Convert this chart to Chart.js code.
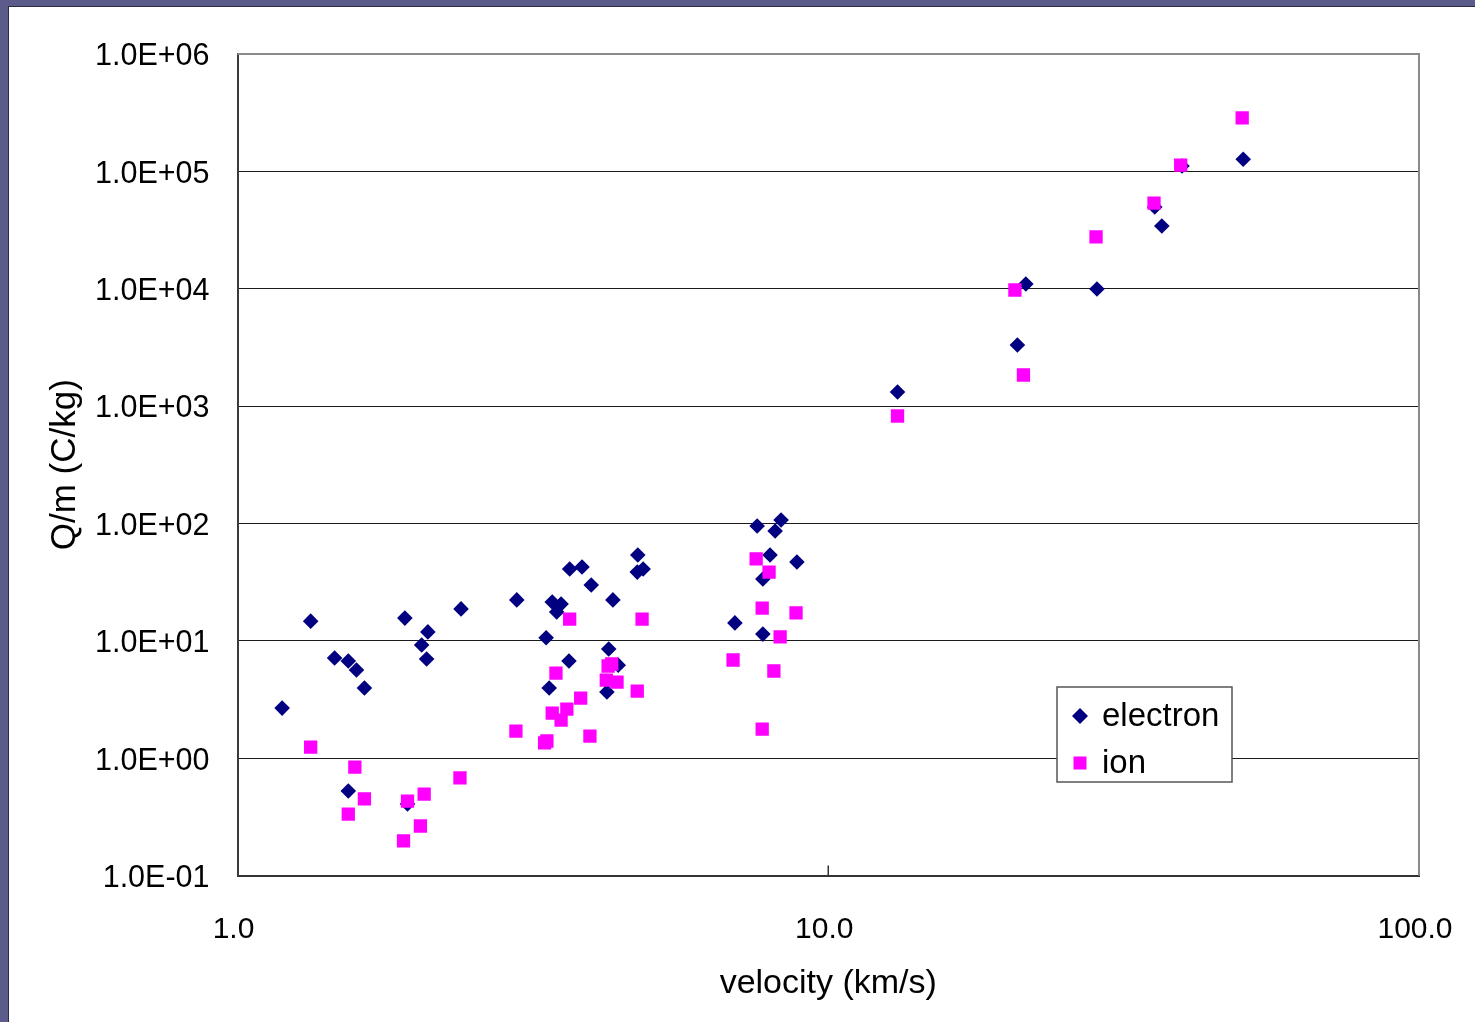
<!DOCTYPE html>
<html><head><meta charset="utf-8">
<script src="https://cdn.jsdelivr.net/npm/chart.js@4/dist/chart.umd.min.js"></script>
<style>
html,body{margin:0;padding:0;background:#5b5b8c;width:1475px;height:1022px;overflow:hidden;}
#frame{position:absolute;left:8px;top:6px;width:1466px;height:1015px;background:#fff;border-left:1px solid #2b2b44;border-top:1px solid #2b2b44;}
canvas{display:block;}
</style></head><body>
<div id="frame"><canvas id="c" width="1466" height="1015"></canvas></div>
<script>
const seriesNames = ['electron', 'ion'];
const electronVelocity = [1.19,1.33,1.46,1.54,1.59,1.64,1.54,1.92,1.94,2.05,2.10,2.09,2.39,2.97,3.33,3.37,3.41,3.47,3.53,3.64,3.65,3.83,3.97,4.22,4.25,4.32,4.41,4.76,4.75,4.86,6.95,7.58,7.75,7.75,7.97,8.13,8.32,8.85,13.1,20.9,21.6,28.5,35.7,36.7,39.7,50.4];
const electronQm = [2.67,14.7,7.13,6.72,5.64,3.96,0.525,15.6,0.407,9.2,11.9,7.0,18.7,22.3,10.6,3.96,21.4,17.6,20.6,6.72,40.9,42.5,29.9,3.66,8.5,22.3,6.2,53.8,38.5,40.9,14.2,95,33.6,11.4,53.8,86.1,107,46.9,1318,3311,10970,9940,49700,34200,111000,127000];
const ionVelocity = [1.33,1.58,1.64,1.54,1.94,2.07,2.04,1.91,2.38,3.65,4.84,3.46,4.30,4.24,4.21,4.39,4.75,3.81,3.61,3.41,3.53,2.96,3.95,3.34,3.31,7.55,7.94,7.73,8.82,8.29,6.90,8.09,7.73,13.1,21.4,20.7,28.4,35.6,39.5,50.2];
const ionQm = [1.24,0.84,0.449,0.334,0.431,0.494,0.264,0.197,0.678,15.3,15.3,5.31,6.34,6.1,4.63,4.45,3.73,3.25,2.62,2.42,2.11,1.70,1.54,1.40,1.35,49.8,38.5,19.0,17.3,10.8,6.86,5.53,1.77,823,1840,9750,27600,53700,113000,285000];
const xTickValues = [1, 10, 100];
const xTickLabels = ['1.0', '10.0', '100.0'];
const yTickValues = [0.1, 1, 10, 100, 1000, 10000, 100000, 1000000];
const yTickLabels = ['1.0E-01','1.0E+00','1.0E+01','1.0E+02','1.0E+03','1.0E+04','1.0E+05','1.0E+06'];
const xTitle = 'velocity (km/s)';
const yTitle = 'Q/m (C/kg)';

const FONT = '"Liberation Sans", Arial, sans-serif';
Chart.defaults.color = '#000';
Chart.defaults.font.family = FONT;

const toPts = (xs, ys) => xs.map((x, i) => ({x: x, y: ys[i]}));

const framePlugin = {
  id: 'frame',
  afterDraw(chart) {
    const ctx = chart.ctx, a = chart.chartArea;
    ctx.save();
    ctx.strokeStyle = '#8a8a8a';
    ctx.lineWidth = 2;
    ctx.beginPath();
    ctx.moveTo(a.left, a.top); ctx.lineTo(a.right, a.top); ctx.lineTo(a.right, a.bottom);
    ctx.stroke();
    const xs = chart.scales.x;
    ctx.strokeStyle = '#333';
    ctx.lineWidth = 1.5;
    xs.ticks.forEach(t => {
      if (t.value > xs.min && t.value < xs.max) {
        const px = xs.getPixelForValue(t.value);
        ctx.beginPath(); ctx.moveTo(px, a.bottom); ctx.lineTo(px, a.bottom - 10); ctx.stroke();
      }
    });
    const lx = 1048, ly = 680, lw = 175, lh = 95;
    ctx.fillStyle = '#fff';
    ctx.fillRect(lx, ly, lw, lh);
    ctx.strokeStyle = '#555';
    ctx.lineWidth = 1.5;
    ctx.strokeRect(lx, ly, lw, lh);
    ctx.font = '33px ' + FONT;
    ctx.textBaseline = 'middle';
    ctx.textAlign = 'left';
    chart.data.datasets.forEach((ds, i) => {
      const cy = ly + 29 + i * 47, cx = lx + 23;
      ctx.fillStyle = ds.backgroundColor;
      ctx.beginPath();
      if (ds.pointStyle === 'rectRot') {
        const r = 8;
        ctx.moveTo(cx, cy - r); ctx.lineTo(cx + r, cy); ctx.lineTo(cx, cy + r); ctx.lineTo(cx - r, cy); ctx.closePath();
      } else {
        ctx.rect(cx - 6.5, cy - 6.5, 13, 13);
      }
      ctx.fill();
      ctx.fillStyle = '#000';
      ctx.fillText(ds.label, lx + 45, cy + 1);
    });
    ctx.restore();
  }
};

new Chart(document.getElementById('c'), {
  type: 'scatter',
  data: {
    datasets: [
      { label: seriesNames[0], data: toPts(electronVelocity, electronQm), pointStyle: 'rectRot', pointRadius: 7.8,
        backgroundColor: '#000080', borderColor: '#000080', borderWidth: 0, order: 1 },
      { label: seriesNames[1], data: toPts(ionVelocity, ionQm), pointStyle: 'rect', pointRadius: 9.4,
        backgroundColor: '#ff00ff', borderColor: '#ff00ff', borderWidth: 0, order: 0 }
    ]
  },
  options: {
    responsive: false,
    animation: false,
    events: [],
    layout: { padding: { top: 47, right: 56, left: 0, bottom: 0 } },
    plugins: { legend: { display: false }, tooltip: { enabled: false } },
    scales: {
      x: {
        type: 'logarithmic', min: 1, max: 100,
        afterBuildTicks: s => { s.ticks = xTickValues.map(v => ({value: v})); },
        afterFit: s => { s.height = 146.5; s.paddingLeft = 0; s.paddingRight = 0; },
        ticks: { autoSkip: false, maxRotation: 0, padding: 36, labelOffset: -4, font: { size: 30 },
          callback: (v) => xTickLabels[xTickValues.indexOf(v)] },
        grid: { display: false, drawTicks: false },
        border: { color: '#333', width: 2 },
        title: { display: true, text: xTitle, font: { size: 34 }, padding: { top: 0, bottom: 18 } }
      },
      y: {
        type: 'logarithmic', min: 0.1, max: 1000000,
        afterBuildTicks: s => { s.ticks = yTickValues.map(v => ({value: v})); },
        afterFit: s => { s.width = 228.5; s.paddingTop = 0; s.paddingBottom = 0; },
        ticks: { autoSkip: false, padding: 28, labelOffset: 3, font: { size: 30.5 },
          callback: (v) => yTickLabels[yTickValues.indexOf(v)] },
        grid: { drawTicks: false, lineWidth: 1,
          color: c => (c.tick && (c.tick.value === 0.1 || c.tick.value === 1000000)) ? 'rgba(0,0,0,0)' : '#1a1a1a' },
        border: { color: '#3a3a3a', width: 2 },
        title: { display: true, text: yTitle, font: { size: 35 }, padding: { top: 35, bottom: 0 } }
      }
    }
  },
  plugins: [framePlugin]
});
</script>
</body></html>
